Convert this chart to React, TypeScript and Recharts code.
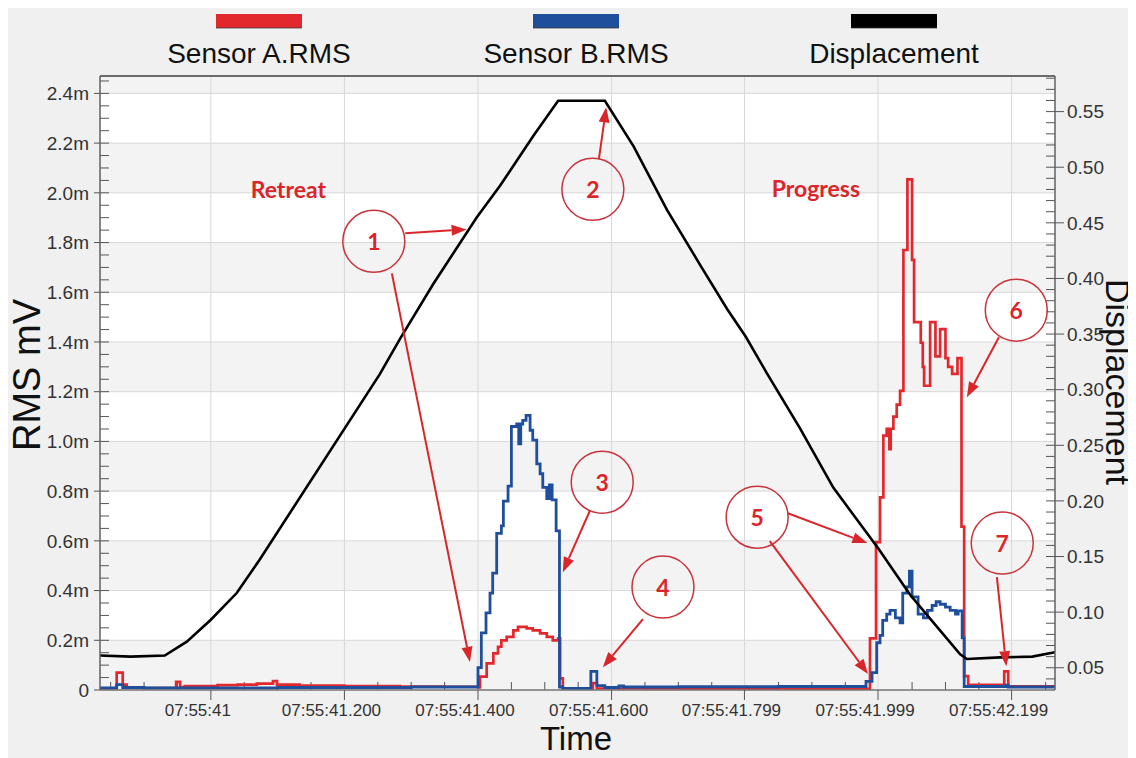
import React from "react";
import { LineChart, Line, XAxis, YAxis, CartesianGrid, ReferenceLine, ReferenceDot } from "recharts";

const FONT = '"Liberation Sans", Arial, sans-serif';
const NOTE_FONT = 'Lato, "Open Sans", sans-serif';
const RED = "#e2282d";
const BLUE = "#1f4e9c";
const NOTE = "#d9262b";

// time axis: milliseconds after 07:55:41.000
const sensorATime = [-166, -141, -132, -126, -52, -46, -39, 10, 40, 69, 93, 99, 133, 200, 283, 350, 400, 403, 413, 423, 430, 435, 443, 453, 460, 473, 482, 493, 503, 512, 520, 523, 527, 572, 578, 650, 800, 987, 996, 1002, 1007, 1012, 1016, 1018, 1022, 1027, 1032, 1037, 1043, 1050, 1053, 1063, 1066, 1068, 1077, 1085, 1092, 1100, 1104, 1110, 1118, 1124, 1128, 1134, 1188, 1194, 1264];
const sensorAValue = [0.006, 0.07, 0.022, 0.008, 0.033, 0.012, 0.016, 0.02, 0.022, 0.026, 0.036, 0.022, 0.018, 0.016, 0.014, 0.013, 0.01, 0.054, 0.107, 0.147, 0.174, 0.2, 0.214, 0.24, 0.254, 0.248, 0.24, 0.228, 0.214, 0.2, 0.208, 0.047, 0.004, 0.028, 0.006, 0.005, 0.005, 0.208, 0.595, 0.775, 1.023, 1.051, 0.969, 1.051, 1.1, 1.148, 1.203, 1.77, 2.054, 1.73, 1.48, 1.397, 1.3, 1.224, 1.48, 1.342, 1.452, 1.335, 1.3, 1.272, 1.335, 0.657, 0.056, 0.021, 0.075, 0.015, 0.012];

const sensorBTime = [-166, -141, -132, -100, 100, 300, 400, 405, 412, 418, 422, 428, 435, 438, 445, 450, 458, 461, 464, 467, 472, 478, 482, 488, 493, 497, 503, 507, 511, 517, 522, 527, 569, 578, 590, 611, 618, 700, 850, 981, 990, 997, 1002, 1006, 1012, 1017, 1025, 1032, 1036, 1042, 1046, 1050, 1059, 1067, 1073, 1080, 1086, 1092, 1100, 1107, 1115, 1119, 1125, 1128, 1190, 1194, 1264];
const sensorBValue = [0.008, 0.022, 0.01, 0.008, 0.01, 0.012, 0.09, 0.23, 0.31, 0.39, 0.47, 0.63, 0.66, 0.76, 0.82, 1.06, 1.07, 0.99, 1.07, 1.085, 1.105, 1.045, 1.005, 0.91, 0.87, 0.815, 0.77, 0.825, 0.765, 0.64, 0.012, 0.006, 0.075, 0.018, 0.01, 0.016, 0.012, 0.013, 0.014, 0.035, 0.07, 0.19, 0.22, 0.28, 0.305, 0.32, 0.29, 0.27, 0.39, 0.415, 0.478, 0.375, 0.305, 0.29, 0.32, 0.34, 0.355, 0.345, 0.333, 0.32, 0.305, 0.318, 0.21, 0.014, 0.02, 0.012, 0.012];

const displacementTime = [-166, -120, -69, -36, 0, 39, 73, 253, 283, 333, 398, 433, 483, 520, 590, 633, 683, 733, 773, 801, 832, 882, 932, 1000, 1047, 1082, 1122, 1132, 1182, 1230, 1264];
const displacementValue = [0.061, 0.06, 0.061, 0.0734, 0.0932, 0.1174, 0.1471, 0.314, 0.3455, 0.395, 0.4548, 0.4833, 0.5283, 0.5597, 0.5597, 0.5187, 0.4617, 0.4118, 0.3725, 0.3476, 0.3154, 0.2655, 0.212, 0.1567, 0.1156, 0.0906, 0.0621, 0.0579, 0.0593, 0.06, 0.064];

const xTicks = [0, 200, 400, 600, 799, 999, 1199];
const xTickLabels = ["07:55:41", "07:55:41.200", "07:55:41.400", "07:55:41.600", "07:55:41.799", "07:55:41.999", "07:55:42.199"];
const xMinorTicks = [-150, -100, -50, 50, 100, 150, 250, 300, 350, 450, 500, 550, 650, 700, 750, 850, 900, 950, 1050, 1100, 1150, 1250];
const leftTicks = [0, 0.2, 0.4, 0.6, 0.8, 1.0, 1.2, 1.4, 1.6, 1.8, 2.0, 2.2, 2.4];
const rightTicks = [0.05, 0.1, 0.15, 0.2, 0.25, 0.3, 0.35, 0.4, 0.45, 0.5, 0.55];
const leftMinorTicks = Array.from({ length: 49 }, (_, i) => +(0.05 * (i + 1)).toFixed(2));
const rightMinorTicks = Array.from({ length: 55 }, (_, i) => +(0.04 + 0.01 * i).toFixed(2));

const legendNames = ["Sensor A.RMS", "Sensor B.RMS", "Displacement"];
const legendColors = [RED, BLUE, "#000000"];

// callouts, in data coordinates (time ms, RMS mV)
const bubbles = [
  { label: "1", t: 244, v: 1.805 },
  { label: "2", t: 572, v: 2.014 },
  { label: "3", t: 586, v: 0.836 },
  { label: "4", t: 677, v: 0.414 },
  { label: "5", t: 818, v: 0.695 },
  { label: "6", t: 1206, v: 1.528 },
  { label: "7", t: 1185, v: 0.591 },
];
const arrows = [
  [291, 1.837, 383, 1.853],
  [271, 1.676, 388, 0.113],
  [581, 2.135, 592, 2.344],
  [568, 0.724, 527, 0.474],
  [647, 0.285, 587, 0.092],
  [863, 0.712, 983, 0.591],
  [837, 0.599, 984, 0.064],
  [1180, 1.419, 1132, 1.178],
  [1177, 0.454, 1191, 0.096],
];
const phases = [
  { text: "Retreat", t: 116, v: 2.014 },
  { text: "Progress", t: 906, v: 2.018 },
];

const sensorA = sensorATime.map((t, i) => ({ t, v: sensorAValue[i] }));
const sensorB = sensorBTime.map((t, i) => ({ t, v: sensorBValue[i] }));
const displacement = displacementTime.map((t, i) => ({ t, d: displacementValue[i] }));

const X_DOMAIN = [-166, 1264];
const L_DOMAIN = [0, 2.47];
const R_DOMAIN = [0.03, 0.582];

const TimeTick = (props: any) => {
  const { x, y, payload } = props;
  const label = xTickLabels[xTicks.indexOf(payload.value)];
  return (
    <text x={x - 13} y={y} dy="0.75em" textAnchor="middle" fontSize={17} fill="#333" fontFamily={FONT}>
      {label}
    </text>
  );
};

// short inward tick marks drawn from a reference line's position
const leftMinorShape = (p: any) => <line x1={p.x1} y1={p.y1} x2={p.x1 + 9} y2={p.y1} stroke="#555" strokeWidth={1} />;
const rightMinorShape = (p: any) => {
  const xr = Math.max(p.x1, p.x2);
  return <line x1={xr - 9} y1={p.y1} x2={xr} y2={p.y1} stroke="#555" strokeWidth={1} />;
};
const bottomMinorShape = (p: any) => {
  const yb = Math.max(p.y1, p.y2);
  return <line x1={p.x1} y1={yb - 8} x2={p.x1} y2={yb} stroke="#555" strokeWidth={1} />;
};

const arrowShape = (props: any) => {
  const { x1, y1, x2, y2 } = props;
  const a = Math.atan2(y2 - y1, x2 - x1);
  const len = 15;
  const half = 5.5;
  const bx = x2 - len * Math.cos(a);
  const by = y2 - len * Math.sin(a);
  const px = -Math.sin(a) * half;
  const py = Math.cos(a) * half;
  return (
    <g>
      <line x1={x1} y1={y1} x2={bx} y2={by} stroke={NOTE} strokeWidth={2} />
      <polygon points={`${x2},${y2} ${bx + px},${by + py} ${bx - px},${by - py}`} fill={NOTE} />
    </g>
  );
};

const bubbleShape = (label: string) => (props: any) => (
  <g>
    <circle cx={props.cx} cy={props.cy} r={31} fill="none" stroke="#c8343b" strokeWidth={1.5} />
    <text x={props.cx} y={props.cy} textAnchor="middle" dominantBaseline="central" fontFamily={NOTE_FONT} fontWeight={700} fontSize={23} fill={NOTE}>
      {label}
    </text>
  </g>
);

const phaseShape = (text: string) => (props: any) => (
  <text x={props.cx} y={props.cy} textAnchor="middle" dominantBaseline="central" fontFamily={NOTE_FONT} fontWeight={700} fontSize={23} fill={NOTE}>
    {text}
  </text>
);

export default function App() {
  return (
    <div style={{ position: "relative", width: 1128, height: 750, background: "#f0f0f0", fontFamily: FONT }}>
      <LineChart width={1128} height={750} margin={{ top: 68, right: 0, bottom: 0, left: 0 }}>
        <CartesianGrid yAxisId="left" stroke="#d8d8d8" horizontalFill={["#f3f3f3", "#ffffff"]} fillOpacity={1} />
        <XAxis
          dataKey="t"
          type="number"
          domain={X_DOMAIN}
          allowDataOverflow
          ticks={xTicks}
          interval={0}
          height={68}
          tick={TimeTick}
          tickSize={10}
          tickMargin={3}
          axisLine={{ stroke: "#777", strokeWidth: 1.5 }}
          tickLine={{ stroke: "#555" }}
        />
        <YAxis
          yAxisId="left"
          type="number"
          domain={L_DOMAIN}
          allowDataOverflow
          ticks={leftTicks}
          interval={0}
          width={92}
          tickSize={6}
          tickMargin={5}
          tickFormatter={(v: number) => (v === 0 ? "0" : `${v.toFixed(1)}m`)}
          tick={{ fill: "#333", fontSize: 19, fontFamily: FONT }}
          axisLine={{ stroke: "#666", strokeWidth: 1.5 }}
          tickLine={{ stroke: "#555" }}
        />
        <YAxis
          yAxisId="right"
          orientation="right"
          type="number"
          domain={R_DOMAIN}
          allowDataOverflow
          ticks={rightTicks}
          interval={0}
          width={81}
          tickSize={9}
          tickMargin={3}
          tickFormatter={(v: number) => v.toFixed(2)}
          tick={{ fill: "#333", fontSize: 19, fontFamily: FONT }}
          axisLine={{ stroke: "#666", strokeWidth: 1.5 }}
          tickLine={{ stroke: "#555" }}
        />
        {leftMinorTicks.map((v) => (
          <ReferenceLine key={`lm${v}`} yAxisId="left" y={v} shape={leftMinorShape} />
        ))}
        {rightMinorTicks.map((v) => (
          <ReferenceLine key={`rm${v}`} yAxisId="right" y={v} shape={rightMinorShape} />
        ))}
        {xMinorTicks.map((t) => (
          <ReferenceLine key={`xm${t}`} yAxisId="left" x={t} shape={bottomMinorShape} />
        ))}
        <ReferenceLine yAxisId="left" y={L_DOMAIN[1]} stroke="#6b6b6b" strokeWidth={2} />
        <Line data={sensorA} yAxisId="left" dataKey="v" type="stepAfter" stroke={RED} strokeWidth={2.7} dot={false} activeDot={false} isAnimationActive={false} />
        <Line data={sensorB} yAxisId="left" dataKey="v" type="stepAfter" stroke={BLUE} strokeWidth={2.8} dot={false} activeDot={false} isAnimationActive={false} />
        <Line data={displacement} yAxisId="right" dataKey="d" type="linear" stroke="#000" strokeWidth={2.6} dot={false} activeDot={false} isAnimationActive={false} />
        {arrows.map((a, i) => (
          <ReferenceLine key={`a${i}`} yAxisId="left" segment={[{ x: a[0], y: a[1] }, { x: a[2], y: a[3] }]} shape={arrowShape} />
        ))}
        {bubbles.map((b) => (
          <ReferenceDot key={`b${b.label}`} yAxisId="left" x={b.t} y={b.v} r={31} shape={bubbleShape(b.label)} />
        ))}
        {phases.map((p) => (
          <ReferenceDot key={p.text} yAxisId="left" x={p.t} y={p.v} r={1} shape={phaseShape(p.text)} />
        ))}
      </LineChart>
      <svg width={1136} height={758} style={{ position: "absolute", left: -8, top: -8, pointerEvents: "none" }}>
        {legendNames.map((name, i) => {
          const cx = [259, 576, 894][i];
          return (
            <g key={name}>
              <rect x={cx - 43} y={14} width={86} height={14} fill={legendColors[i]} />
              <line x1={cx - 43} x2={cx + 43} y1={28} y2={28} stroke="#333" strokeOpacity={0.5} strokeWidth={1.5} />
              <text x={cx} y={63} textAnchor="middle" fontSize={28} fill="#111" fontFamily={FONT}>
                {name}
              </text>
            </g>
          );
        })}
        <text transform="translate(40,375) rotate(-90)" textAnchor="middle" fontSize={38} fill="#111" fontFamily={FONT}>
          RMS mV
        </text>
        <text transform="translate(1106,382) rotate(90)" textAnchor="middle" fontSize={34} fill="#111" fontFamily={FONT}>
          Displacement
        </text>
        <text x={576} y={750} textAnchor="middle" fontSize={33} fill="#111" fontFamily={FONT}>
          Time
        </text>
      </svg>
    </div>
  );
}
